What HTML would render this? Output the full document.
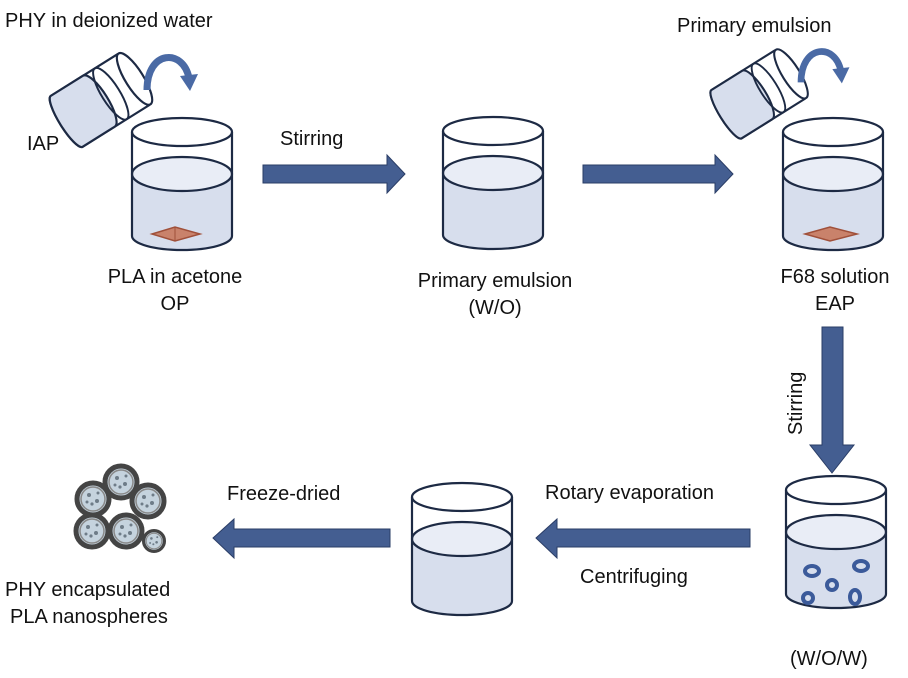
<!DOCTYPE html>
<html><head><meta charset="utf-8"><style>
html,body{margin:0;padding:0;background:#fff;}
svg{display:block;}
text{font-family:"Liberation Sans",Arial,sans-serif;font-size:20px;fill:#111;}
</style></head><body>
<svg width="908" height="678" viewBox="0 0 908 678" xmlns="http://www.w3.org/2000/svg">
<defs>
<g id="beaker">
  <path d="M0,42 A50,17 0 0 0 100,42 L100,104 A50,14 0 0 1 0,104 Z" fill="#d7deed"/>
  <ellipse cx="50" cy="42" rx="50" ry="17" fill="#e9edf6" stroke="#1d2a44" stroke-width="2.2"/>
  <ellipse cx="50" cy="0" rx="50" ry="14" fill="#fff" stroke="#1d2a44" stroke-width="2.2"/>
  <path d="M0,0 L0,104 A50,14 0 0 0 100,104 L100,0" fill="none" stroke="#1d2a44" stroke-width="2.2"/>
</g>
<g id="vial">
  <path d="M-44,-30 L34,-30 L34,30 L-44,30 A7,30 0 0 1 -44,-30 Z" fill="#fff" stroke="#1d2a44" stroke-width="2.2"/>
  <path d="M-44,-30 L-6,-30 A9,30 0 0 1 -6,30 L-44,30 A7,30 0 0 1 -44,-30 Z" fill="#d7deed" stroke="#1d2a44" stroke-width="2.2"/>
  <ellipse cx="8" cy="0" rx="9" ry="30" fill="none" stroke="#1d2a44" stroke-width="2"/>
  <ellipse cx="36" cy="0" rx="9" ry="30" fill="#fff" stroke="#1d2a44" stroke-width="2.2"/>
</g>
<g id="curl">
  <path d="M0,32 C0,-8 36,-10 42,20" fill="none" stroke="#4a6aa5" stroke-width="7"/>
  <path d="M33,18 L51,16 L43,33 Z" fill="#4a6aa5"/>
</g>
<g id="sph">
  <circle r="16" fill="#c5d3de" stroke="#444" stroke-width="5"/>
  <circle r="12" fill="none" stroke="#888" stroke-width="1.5"/>
  <g fill="#6e7c88"><circle cx="-4" cy="-4" r="2"/><circle cx="4" cy="2" r="2"/><circle cx="-1" cy="5" r="1.6"/><circle cx="5" cy="-6" r="1.5"/><circle cx="-6" cy="3" r="1.5"/></g>
</g>
</defs>

<text x="5" y="27">PHY in deionized water</text>
<text x="27" y="150">IAP</text>
<text x="280" y="145">Stirring</text>
<text x="175" y="283" text-anchor="middle">PLA in acetone</text>
<text x="175" y="310" text-anchor="middle">OP</text>
<text x="495" y="287" text-anchor="middle">Primary emulsion</text>
<text x="495" y="314" text-anchor="middle">(W/O)</text>
<text x="677" y="32">Primary emulsion</text>
<text x="835" y="283" text-anchor="middle">F68 solution</text>
<text x="835" y="310" text-anchor="middle">EAP</text>
<text transform="translate(802,435) rotate(-90)">Stirring</text>
<text x="227" y="500">Freeze-dried</text>
<text x="545" y="499">Rotary evaporation</text>
<text x="580" y="583">Centrifuging</text>
<text x="790" y="665">(W/O/W)</text>
<text x="5" y="596">PHY encapsulated</text>
<text x="10" y="623">PLA nanospheres</text>

<g transform="translate(104,98) rotate(-32)"><use href="#vial"/></g>
<use href="#curl" transform="translate(147,58)"/>
<g transform="translate(762,92) rotate(-32) scale(0.95)"><use href="#vial"/></g>
<use href="#curl" transform="translate(801,52) scale(0.95)"/>

<use href="#beaker" transform="translate(132,132)"/>
<path d="M152,234 L175,227 L200,234 L175,241 Z" fill="#c9826b" stroke="#a0503a" stroke-width="1.5"/>
<line x1="175" y1="227" x2="175" y2="241" stroke="#a0503a" stroke-width="1"/>
<use href="#beaker" transform="translate(443,131)"/>
<use href="#beaker" transform="translate(783,132)"/>
<path d="M805,234 L830,227 L857,234 L830,241 Z" fill="#c9826b" stroke="#a0503a" stroke-width="1.5"/>
<use href="#beaker" transform="translate(412,497)"/>
<use href="#beaker" transform="translate(786,490)"/>
<g fill="none" stroke="#3b5a9a" stroke-width="4">
<ellipse cx="812" cy="571" rx="7" ry="5"/>
<ellipse cx="861" cy="566" rx="7" ry="5"/>
<ellipse cx="832" cy="585" rx="5" ry="5"/>
<ellipse cx="808" cy="598" rx="5" ry="5"/>
<ellipse cx="855" cy="597" rx="5" ry="7"/>
</g>

<g fill="#445e91" stroke="#2a3d66" stroke-width="1">
<path d="M263,165 L387,165 L387,155 L405,174 L387,193 L387,183 L263,183 Z"/>
<path d="M583,165 L715,165 L715,155 L733,174 L715,193 L715,183 L583,183 Z"/>
<path d="M822,327 L843,327 L843,445 L854,445 L832,473 L810,445 L822,445 Z"/>
<path d="M750,529 L557,529 L557,519 L536,538 L557,558 L557,547 L750,547 Z"/>
<path d="M390,529 L234,529 L234,519 L213,538 L234,558 L234,547 L390,547 Z"/>
</g>

<use href="#sph" transform="translate(93,499)"/>
<use href="#sph" transform="translate(121,482)"/>
<use href="#sph" transform="translate(148,501)"/>
<use href="#sph" transform="translate(92,531)"/>
<use href="#sph" transform="translate(126,531)"/>
<use href="#sph" transform="translate(154,541) scale(0.65)"/>
</svg>
</body></html>
